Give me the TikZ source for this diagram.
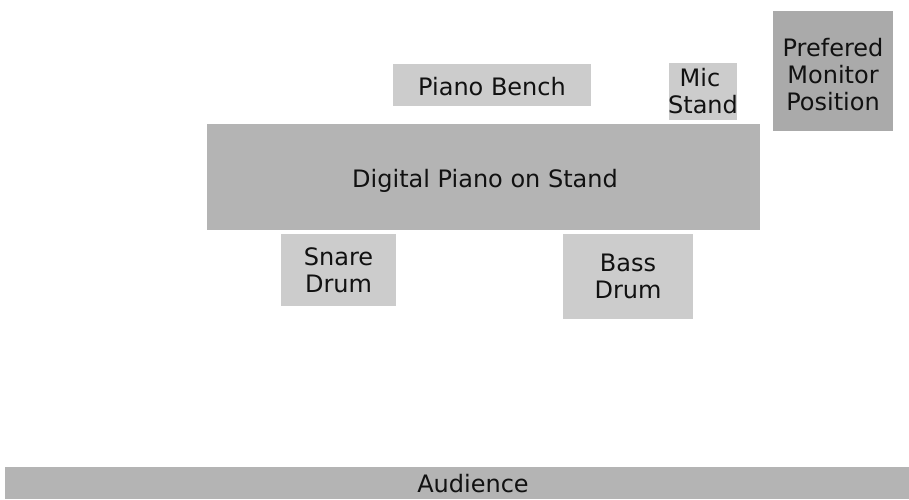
\documentclass[tikz,border=0pt]{standalone}
\usepackage{fontspec}
\setmainfont{DejaVu Sans}
\definecolor{lightbox}{HTML}{CCCCCC}
\definecolor{midbox}{HTML}{B4B4B4}
\definecolor{darkbox}{HTML}{AAAAAA}
\definecolor{txt}{HTML}{111111}
\begin{document}
\begin{tikzpicture}[x=1pt,y=-1pt,
  item/.style={rectangle, draw=none, inner sep=0pt, outer sep=0pt, align=center,
    text=txt, font=\fontsize{24}{27}\selectfont},
  light/.style={item, fill=lightbox},
  mid/.style={item, fill=midbox},
  dark/.style={item, fill=darkbox}]
\useasboundingbox (0,0) rectangle (909,499);
\node[light, minimum width=198pt, minimum height=42pt] (bench) at (492,85) {};
\node[item] (benchtext) at (492,86.5) {Piano Bench};
\node[light, minimum width=68pt, minimum height=57pt] (mic) at (703,91.5) {};
\node[item] (mictext) at (mic.center) {\hspace*{-6pt}Mic\\Stand};
\node[dark, minimum width=120pt, minimum height=120pt] (monitor) at (833,71) {};
\node[item] (montext) at (833,75) {Prefered\\Monitor\\Position};
\node[mid, minimum width=553pt, minimum height=106pt] (piano) at (483.5,177) {};
\node[item] (pianotext) at (485,180.5) {Digital Piano on Stand};
\node[light, minimum width=115pt, minimum height=72pt] (snare) at (338.5,270) {Snare\\Drum};
\node[light, minimum width=130pt, minimum height=85pt] (bass) at (628,276.5) {Bass\\Drum};
\node[mid, minimum width=904pt, minimum height=32pt] (audience) at (457,483) {};
\node[item, anchor=base] (audtext) at (473,492) {Audience};
\end{tikzpicture}
\end{document}
